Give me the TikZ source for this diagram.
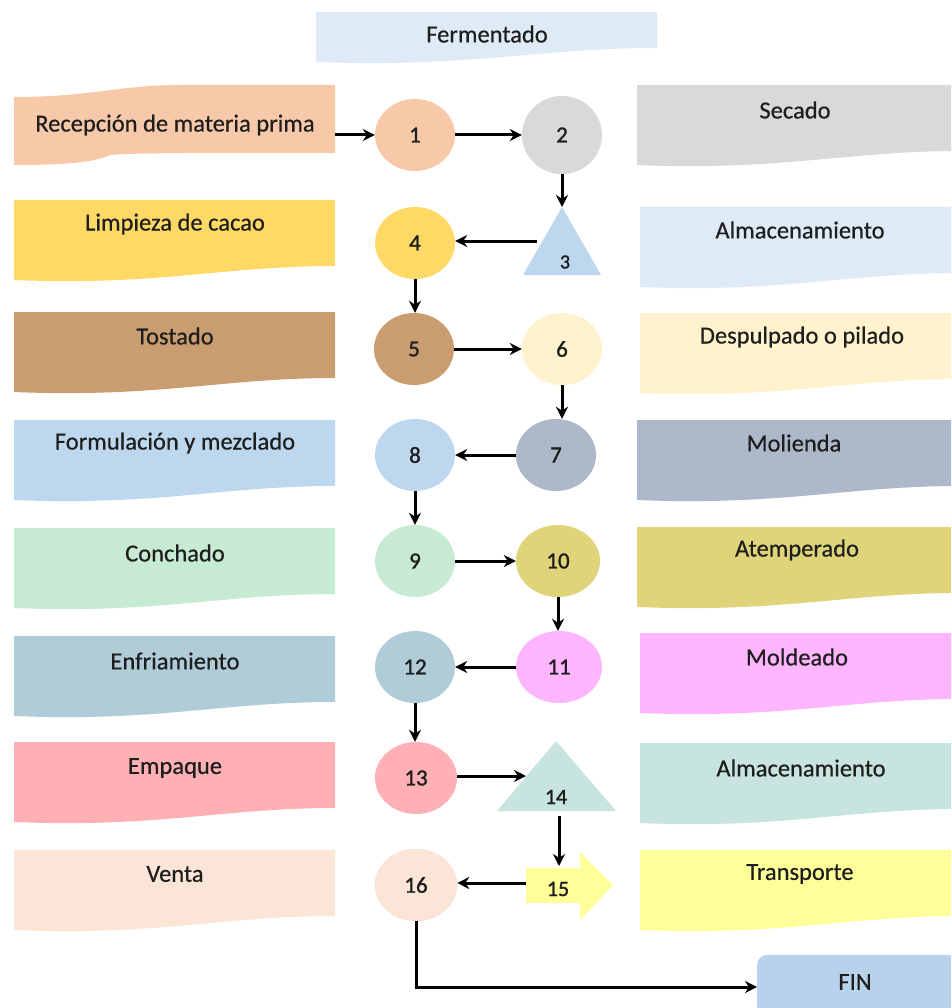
\documentclass[tikz,border=0pt]{standalone}
\usepackage{fontspec}
\setmainfont{Carlito}[FakeBold=0.5]
\newfontfamily\heavy{Carlito}[FakeBold=1.2]
\usetikzlibrary{arrows.meta,shapes.geometric}
\definecolor{cRec}{HTML}{F7C9A9}
\definecolor{cSec}{HTML}{D9D9D9}
\definecolor{cFer}{HTML}{DEEBF7}
\definecolor{cLim}{HTML}{FFD966}
\definecolor{cAlm}{HTML}{DEEBF7}
\definecolor{cTos}{HTML}{C99D70}
\definecolor{cDes}{HTML}{FFF2CC}
\definecolor{cFor}{HTML}{BDD7EE}
\definecolor{cMol}{HTML}{ADB9CA}
\definecolor{cCon}{HTML}{C7EAD3}
\definecolor{cAte}{HTML}{DFD47A}
\definecolor{cEnf}{HTML}{B0CCD8}
\definecolor{cMod}{HTML}{FFB5FF}
\definecolor{cEmp}{HTML}{FFB0B4}
\definecolor{cAlb}{HTML}{C8E4DF}
\definecolor{cVen}{HTML}{FBE5D6}
\definecolor{cTra}{HTML}{FFFF99}
\definecolor{cFin}{HTML}{B8D2EC}
\definecolor{txt}{HTML}{1E1E1E}
\newcommand\wavebox[5]{%
  \fill[#5] (#1,#2) -- (#3,#2) -- ({#3},{#4-14})
    .. controls ({#3-0.35*(#3-#1)},{#4-14}) and ({#1+0.45*(#3-#1)},{#4+6}) .. (#1,#4) -- cycle;}
\begin{document}
\begin{tikzpicture}[x=1pt,y=-1pt,
  lbl/.style={font=\fontsize{24.5}{28}\selectfont, text=txt, inner sep=0},
  num/.style={ellipse, minimum width=80, minimum height=72, inner sep=0,
    font=\heavy\fontsize{23}{26}\selectfont, text=txt},
  arr/.style={line width=3pt, -{Stealth[length=12pt,width=12pt]}}]
\useasboundingbox (0,0) rectangle (951,1008);
\clip (0,0) rectangle (951,1008);
% Fermentado
\wavebox{316}{12}{657}{62}{cFer}
\node[lbl] (fer) at (487,34) {Fermentado};
% Recepcion (tape shape)
\fill[cRec] (14,97) .. controls (90,97) and (120,85) .. (180,85) -- (335,85) -- (335,153)
  .. controls (250,153) and (150,152) .. (110,155) .. controls (90,165) and (40,165) .. (14,165) -- cycle;
\node[lbl] (rec) at (175,125) {Recepción de materia prima};
\coordinate (rec-e) at (335,135);
% left banners
\wavebox{14}{200}{335}{280}{cLim}
\node[lbl] (lim) at (175,224) {Limpieza de cacao};
\wavebox{14}{312}{335}{392}{cTos}
\node[lbl] (tos) at (175,336) {Tostado};
\wavebox{14}{420}{335}{500}{cFor}
\node[lbl] (for) at (175,443) {Formulación y mezclado};
\wavebox{14}{528}{335}{608}{cCon}
\node[lbl] (con) at (175,553) {Conchado};
\wavebox{14}{636}{335}{716}{cEnf}
\node[lbl] (enf) at (175,661) {Enfriamiento};
\wavebox{14}{742}{335}{822}{cEmp}
\node[lbl] (emp) at (175,768) {Empaque};
\wavebox{14}{850}{335}{930}{cVen}
\node[lbl] (ven) at (175,874) {Venta};
% right banners
\wavebox{637}{85}{960}{165}{cSec}
\node[lbl] (sec) at (795,110) {Secado};
\wavebox{640}{207}{960}{287}{cAlm}
\node[lbl] (alm) at (800,230) {Almacenamiento};
\wavebox{640}{313}{960}{393}{cDes}
\node[lbl] (des) at (802,337) {Despulpado o pilado};
\wavebox{637}{420}{960}{500}{cMol}
\node[lbl] (mol) at (794,443) {Molienda};
\wavebox{637}{527}{960}{607}{cAte}
\node[lbl] (ate) at (797,550) {Atemperado};
\wavebox{640}{633}{960}{713}{cMod}
\node[lbl] (mod) at (797,657) {Moldeado};
\wavebox{640}{743}{960}{823}{cAlb}
\node[lbl] (alb) at (801,768) {Almacenamiento};
\wavebox{640}{850}{960}{930}{cTra}
\node[lbl] (tra) at (800,874) {Transporte};
% FIN
\fill[cFin, rounded corners=10pt] (757,955) rectangle (970,1020);
\node[lbl] (fin) at (855,982) {FIN};
\coordinate (finW) at (757,987);
% circles
\node[num, fill=cRec] (n1) at (415,135) {1};
\node[num, fill=cSec, minimum height=78] (n2) at (562,135) {2};
\node[num, fill=cLim] (n4) at (415,243) {4};
\node[num, fill=cTos] (n5) at (414,349) {5};
\node[num, fill=cDes] (n6) at (562,349) {6};
\node[num, fill=cMol] (n7) at (556,455) {7};
\node[num, fill=cFor] (n8) at (415,455) {8};
\node[num, fill=cCon] (n9) at (415,561) {9};
\node[num, fill=cAte, minimum width=84] (n10) at (558,561) {10};
\node[num, fill=cMod, minimum width=86] (n11) at (559,667) {11};
\node[num, fill=cEnf] (n12) at (415,667) {12};
\node[num, fill=cEmp, minimum width=82] (n13) at (416,778) {13};
\node[num, fill=cVen, minimum width=82, draw=cVen!80!red!60, densely dotted, line width=0.6pt] (n16) at (416,885) {16};
% triangle 3
\fill[cFor] (562,207) -- (601,275) -- (523,275) -- cycle;
\node[font=\heavy\fontsize{20}{22}\selectfont, text=txt] (n3) at (565,262) {3};
\coordinate (n3top) at (562,207);
\coordinate (n3w) at (537,241);
% triangle 14
\fill[cAlb] (556,741) -- (616,811) -- (497,811) -- cycle;
\node[font=\heavy\fontsize{22}{24}\selectfont, text=txt] (n14) at (556,797) {14};
\coordinate (n14w) at (526,776);
\coordinate (n14b) at (559,816);
% arrow 15
\fill[cTra] (526,868) -- (580,868) -- (580,852) -- (613,885) -- (580,920) -- (580,903) -- (526,903) -- cycle;
\node[font=\heavy\fontsize{22}{24}\selectfont, text=txt] (n15) at (558,889) {15};
\coordinate (n15t) at (559,866);
\coordinate (n15w) at (526,883);
\coordinate (corner) at (416,987);
% connectors
\draw[arr] (rec-e) -- (n1);
\draw[arr] (n1) -- (n2);
\draw[arr] (n2) -- (n3top);
\draw[arr] (n3w) -- (n3w -| n4.east);
\draw[arr] (n4.south) -- (n4.south |- n5.north);
\draw[arr] (n5) -- (n6);
\draw[arr] (n6.south) -- (n6.south |- n7.north);
\draw[arr] (n7) -- (n8);
\draw[arr] (n8) -- (n9);
\draw[arr] (n9) -- (n10);
\draw[arr] (n10.south) -- (n10.south |- n11.north);
\draw[arr] (n11) -- (n12);
\draw[arr] (n12.south) -- (n12.south |- n13.north);
\draw[arr] (n13.east |- n14w) -- (n14w);
\draw[arr] (n14b) -- (n15t);
\draw[arr] (n15w) -- (n15w -| n16.east);
\draw[arr] (n16.south) -- (corner) -- (finW);
\end{tikzpicture}
\end{document}
